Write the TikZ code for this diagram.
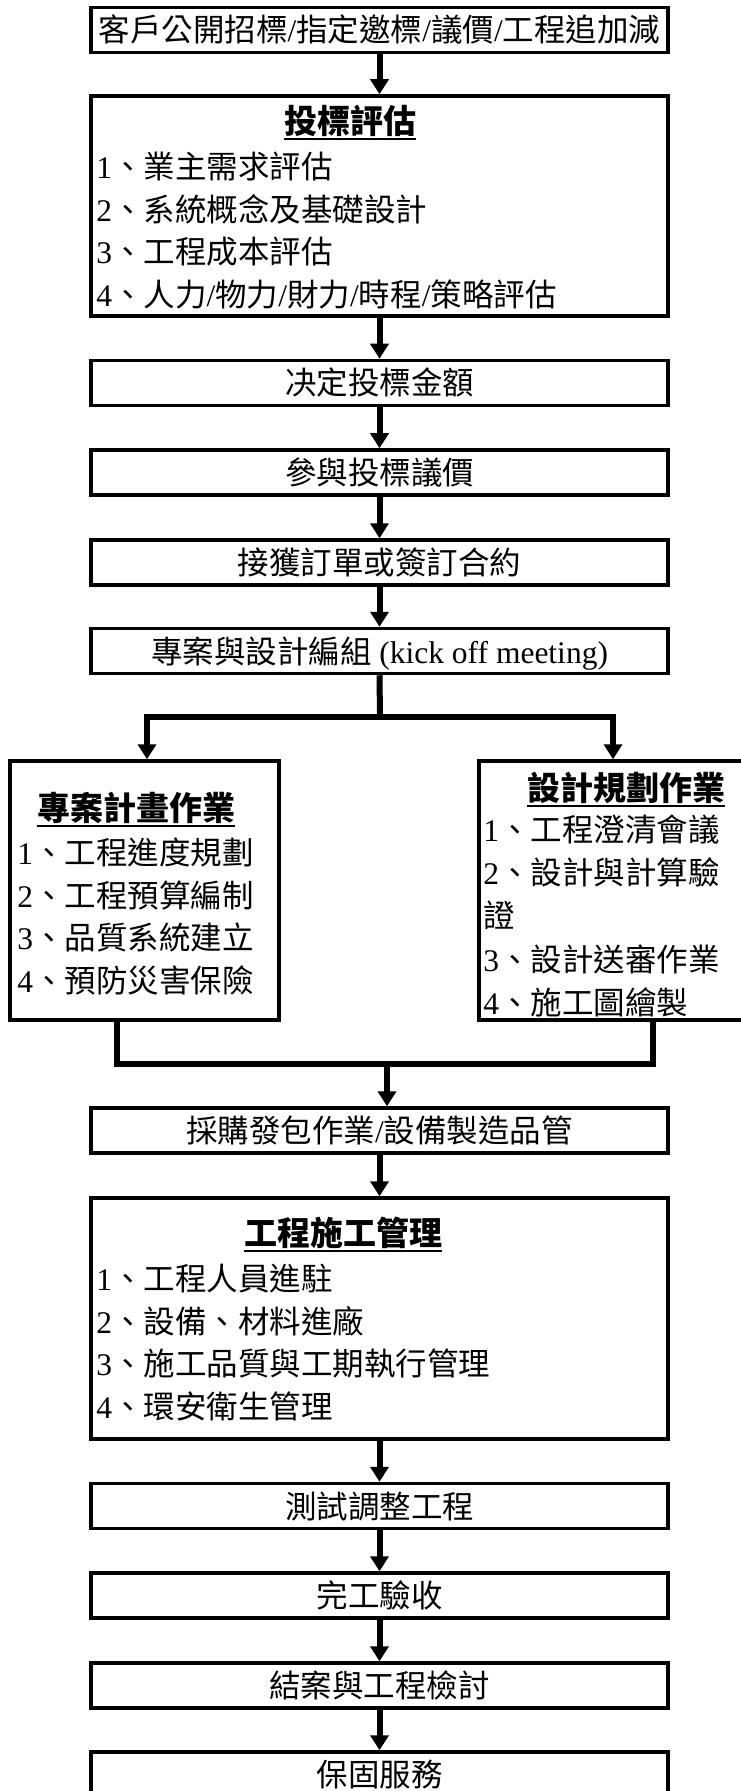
\documentclass[tikz,border=0pt]{standalone}
\usepackage{fontspec}
\setmainfont{Noto Sans CJK TC}
\newfontfamily\lat{Liberation Serif}
\usetikzlibrary{arrows.meta,calc}
\newcommand\slsh{{\lat /}}
\newcommand\num[1]{{\lat #1}}
\newcommand\fsn{\fontsize{15.75}{18}\selectfont}
\newcommand\fsb{\fontsize{16.5}{19}\selectfont\bfseries}
\begin{document}
\begin{tikzpicture}[x=0.5pt,y=-0.5pt,
  box/.style={draw, line width=1.75pt, minimum width=288.5pt, minimum height=22.5pt,
    inner sep=0pt, font=\fsn, text height=13.9pt, text depth=1.9pt},
  txt/.style={anchor=west, inner sep=0pt, font=\fsn, text height=13.9pt, text depth=1.9pt},
  ttl/.style={anchor=center, inner sep=0pt, font=\fsb, text height=14.5pt, text depth=2pt},
  conn/.style={line width=3pt},
  arr/.style={line width=3pt, -{Triangle[length=7.5pt,width=9pt]}},
  ul/.style={line width=0.9pt}]
\useasboundingbox (0,0) rectangle (740,1791);

% main column
\node[box] (b1) at (379.5,30) {客戶公開招標\slsh 指定邀標\slsh 議價\slsh 工程追加減};

\node[box, minimum height=110pt] (b2) at (379.5,206) {};
\node[ttl] (t2) at (350,121) {投標評估};
\draw[ul] ([yshift=-2.8pt]t2.base west) -- ([yshift=-2.8pt]t2.base east);
\node[txt] (l21) at (96,167) {\num{1}、業主需求評估};
\node[txt] (l22) at (96,209.5) {\num{2}、系統概念及基礎設計};
\node[txt] (l23) at (96,252) {\num{3}、工程成本評估};
\node[txt] (l24) at (96,294.5) {\num{4}、人力\slsh 物力\slsh 財力\slsh 時程\slsh 策略評估};

\node[box] (b3) at (379.5,383) {决定投標金額};
\node[box] (b4) at (379.5,472.5) {參與投標議價};
\node[box] (b5) at (379.5,562.5) {接獲訂單或簽訂合約};
\node[box] (b6) at (379.5,651) {專案與設計編組{\lat\ (kick off meeting)}};

% branches
\node[box, minimum width=134.5pt, minimum height=129.5pt] (L) at (144.5,890.5) {};
\node[ttl] (tL) at (136,808) {專案計畫作業};
\draw[ul] ([yshift=-2.8pt]tL.base west) -- ([yshift=-2.8pt]tL.base east);
\node[txt] (lL1) at (17,852) {\num{1}、工程進度規劃};
\node[txt] (lL2) at (17,895) {\num{2}、工程預算編制};
\node[txt] (lL3) at (17,937.5) {\num{3}、品質系統建立};
\node[txt] (lL4) at (17,980) {\num{4}、預防災害保險};

\node[box, minimum width=134.5pt, minimum height=129.5pt] (R) at (613.5,890.5) {};
\node[ttl] (tR) at (626,788) {設計規劃作業};
\draw[ul] ([yshift=-2.8pt]tR.base west) -- ([yshift=-2.8pt]tR.base east);
\node[txt] (lR1) at (483,829) {\num{1}、工程澄清會議};
\node[txt] (lR2) at (483,872) {\num{2}、設計與計算驗};
\node[txt] (lR2b) at (483,915.5) {證};
\node[txt] (lR3) at (483,959) {\num{3}、設計送審作業};
\node[txt] (lR4) at (483,1002) {\num{4}、施工圖繪製};

\node[box] (b7) at (379.5,1130.5) {採購發包作業\slsh 設備製造品管};

\node[box, minimum height=120.5pt] (b8) at (379.5,1318.5) {};
\node[ttl] (t8) at (343,1233) {工程施工管理};
\draw[ul] ([yshift=-2.8pt]t8.base west) -- ([yshift=-2.8pt]t8.base east);
\node[txt] (l81) at (96,1278) {\num{1}、工程人員進駐};
\node[txt] (l82) at (96,1321) {\num{2}、設備、材料進廠};
\node[txt] (l83) at (96,1363) {\num{3}、施工品質與工期執行管理};
\node[txt] (l84) at (96,1406) {\num{4}、環安衛生管理};

\node[box] (b9) at (379.5,1506) {測試調整工程};
\node[box] (b10) at (379.5,1595.5) {完工驗收};
\node[box] (b11) at (379.5,1685.5) {結案與工程檢討};
\node[box] (b12) at (379.5,1774.5) {保固服務};

% connectors
\draw[arr] (b1) -- (b2);
\draw[arr] (b2) -- (b3);
\draw[arr] (b3) -- (b4);
\draw[arr] (b4) -- (b5);
\draw[arr] (b5) -- (b6);

\coordinate (split) at (380,717);
\coordinate (sl) at (147,717);
\coordinate (sr) at (613,717);
\draw[conn] (b6.south) -- (split);
\draw[arr] (split) -- (sl) -- (sl |- L.north);
\draw[arr] (split) -- (sr) -- (sr |- R.north);

\coordinate (jl) at (117,1064);
\coordinate (jr) at (653,1064);
\coordinate (jm) at (387,1064);
\draw[conn] (jl |- L.south) -- (jl) -- (jr) -- (jr |- R.south);
\draw[arr] (jm) -- (jm |- b7.north);

\draw[arr] (b7) -- (b8);
\draw[arr] (b8) -- (b9);
\draw[arr] (b9) -- (b10);
\draw[arr] (b10) -- (b11);
\draw[arr] (b11) -- (b12);
\end{tikzpicture}
\end{document}
